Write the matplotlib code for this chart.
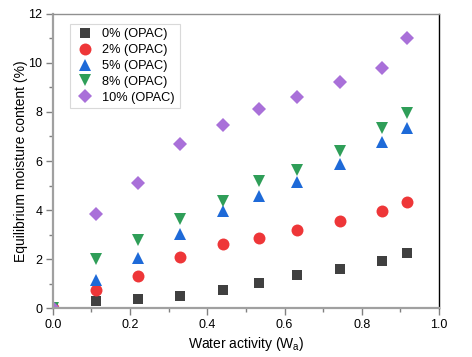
import numpy as np
import matplotlib
matplotlib.use('Agg')
import matplotlib.pyplot as plt
from matplotlib.ticker import MultipleLocator

plt.rcParams['font.family'] = ['Liberation Sans', 'DejaVu Sans']

# water activity levels
wa = [0.0, 0.113, 0.22, 0.33, 0.44, 0.535, 0.633, 0.744, 0.853, 0.918]

# equilibrium moisture content (%) per OPAC level
emc_0 = [0.0, 0.29, 0.37, 0.49, 0.72, 1.01, 1.33, 1.58, 1.92, 2.23]
emc_2 = [0.0, 0.75, 1.32, 2.08, 2.60, 2.86, 3.18, 3.56, 3.96, 4.34]
emc_5 = [0.0, 1.15, 2.05, 3.01, 3.95, 4.58, 5.15, 5.88, 6.76, 7.34]
emc_8 = [0.0, 2.00, 2.76, 3.64, 4.38, 5.18, 5.63, 6.41, 7.36, 7.95]
emc_10 = [0.0, 3.84, 5.10, 6.69, 7.47, 8.12, 8.62, 9.21, 9.78, 11.0]

series = [
    ('0% (OPAC)', emc_0, 's', '#404040', 7.6),
    ('2% (OPAC)', emc_2, 'o', '#EE3638', 8.6),
    ('5% (OPAC)', emc_5, '^', '#1E6AD8', 9.0),
    ('8% (OPAC)', emc_8, 'v', '#2F9E58', 9.0),
    ('10% (OPAC)', emc_10, 'D', '#A970D9', 7.0),
]

fig = plt.figure(figsize=(4.72, 3.57), dpi=100)
ax = fig.add_axes([0.112, 0.137, 0.818, 0.824])

for label, y, m, c, ms in series:
    ax.plot(wa, y, linestyle='none', marker=m, color=c, markersize=ms,
            markeredgewidth=0, label=label)

ax.set_xlim(0, 1.0)
ax.set_ylim(0, 12)
ax.xaxis.set_major_locator(MultipleLocator(0.2))
ax.xaxis.set_minor_locator(MultipleLocator(0.1))
ax.yaxis.set_major_locator(MultipleLocator(2))
ax.yaxis.set_minor_locator(MultipleLocator(1))
ax.xaxis.set_major_formatter(matplotlib.ticker.FormatStrFormatter('%.1f'))

for side in ['left', 'bottom']:
    ax.spines[side].set_color('#a0a0a0')
    ax.spines[side].set_linewidth(1.6)
ax.spines['top'].set_color('#909090')
ax.spines['top'].set_linewidth(1.0)
ax.spines['right'].set_color('black')
ax.spines['right'].set_linewidth(1.0)

ax.tick_params(which='both', direction='out', color='#808080', width=1,
               labelsize=9, top=False, right=False, pad=2.5)
ax.tick_params(which='major', length=5)
ax.tick_params(which='minor', length=3)

ax.set_xlabel('Water activity (W$_\\mathregular{a}$)', fontsize=10, labelpad=3)
ax.set_ylabel('Equilibrium moisture content (%)', fontsize=10, labelpad=0)

leg = ax.legend(loc='upper left', bbox_to_anchor=(0.044, 0.966), fontsize=9.2,
                frameon=True, fancybox=False, edgecolor='#d0d0d0',
                handletextpad=0.6, labelspacing=0.3, borderpad=0.35,
                handlelength=1.6, borderaxespad=0)
leg.get_frame().set_linewidth(0.8)

fig.savefig('out.png', dpi=100)
